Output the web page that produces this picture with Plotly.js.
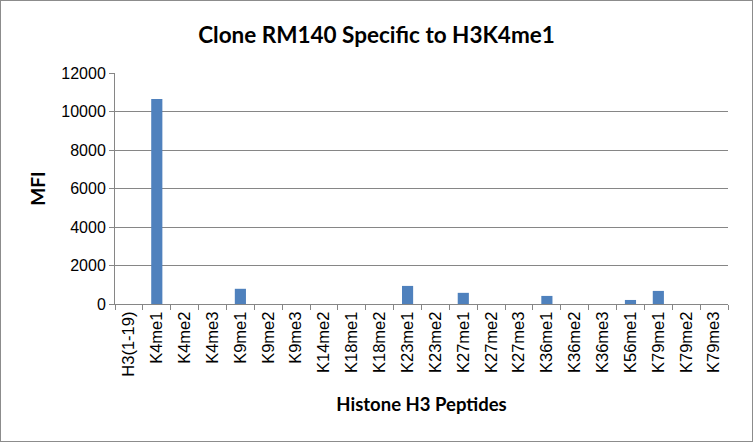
<!DOCTYPE html>
<html>
<head>
<meta charset="utf-8">
<script src="https://cdn.plot.ly/plotly-3.0.1.min.js"></script>
<style>
  html, body { margin: 0; padding: 0; background: #fff; }
  #chart { width: 753px; height: 442px; box-sizing: border-box; border: 1px solid #8c8c8c; }
</style>
</head>
<body>
<div id="chart"></div>
<script>
// Peptides on the array, in plate order
const peptides = ['H3(1-19)', 'K4me1', 'K4me2', 'K4me3', 'K9me1', 'K9me2', 'K9me3',
  'K14me2', 'K18me1', 'K18me2', 'K23me1', 'K23me2', 'K27me1', 'K27me2', 'K27me3',
  'K36me1', 'K36me2', 'K36me3', 'K56me1', 'K79me1', 'K79me2', 'K79me3'];

// MFI
const mfi = [0, 10650, 0, 0, 790, 0, 0, 0, 0, 0, 940, 0, 580, 0, 0, 420, 0, 0, 210, 680, 0, 0];

const yTicks = [0, 2000, 4000, 6000, 8000, 10000, 12000];

const trace = {
  type: 'bar',
  x: peptides,
  y: mfi,
  marker: { color: '#4f81bd' },
  hoverinfo: 'x+y'
};

const layout = {
  width: 751,
  height: 440,
  margin: { l: 114, r: 24, t: 72, b: 137 },
  paper_bgcolor: '#fff',
  plot_bgcolor: '#fff',
  bargap: 0.6,
  showlegend: false,
  font: { family: 'Liberation Sans, Arial, sans-serif', color: '#000' },
  title: {
    text: 'Clone RM140 Specific to H3K4me1',
    font: { family: 'Lato, Calibri, sans-serif', size: 22.5, weight: 'bold', color: '#000' },
    x: 0.5, xanchor: 'center',
    y: 0.922, yanchor: 'middle'
  },
  xaxis: {
    type: 'category',
    tickangle: -90,
    tickfont: { size: 16.5 },
    ticks: 'outside',
    tickson: 'boundaries',
    ticklen: 5,
    tickcolor: '#868686',
    showline: true,
    linecolor: '#868686',
    showgrid: false,
    title: {
      text: 'Histone H3 Peptides',
      font: { family: 'Lato, Calibri, sans-serif', size: 18.5, weight: 'bold' },
      standoff: 22
    }
  },
  yaxis: {
    range: [0, 12000],
    tickvals: yTicks,
    ticktext: yTicks.map(String),
    tickfont: { size: 16 },
    ticks: 'outside',
    ticklen: 5,
    tickcolor: '#868686',
    showline: true,
    linecolor: '#868686',
    showgrid: true,
    gridcolor: '#868686',
    zeroline: false,
    title: {
      text: 'MFI',
      font: { family: 'Lato, Calibri, sans-serif', size: 19, weight: 'bold' },
      standoff: 10
    }
  }
};

Plotly.newPlot('chart', [trace], layout, { staticPlot: true });
</script>
</body>
</html>
